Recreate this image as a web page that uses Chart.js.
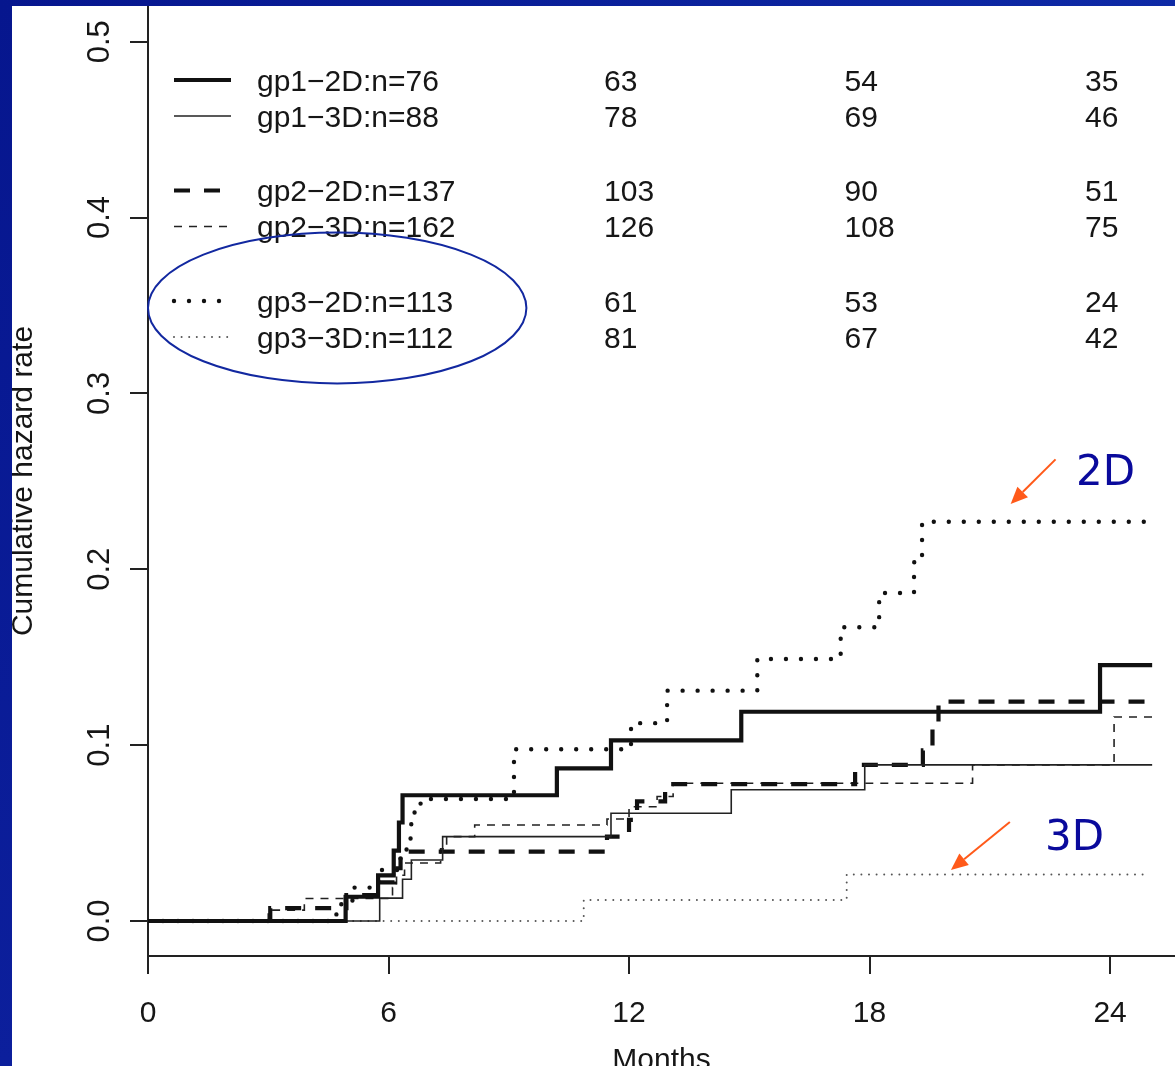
<!DOCTYPE html>
<html>
<head>
<meta charset="utf-8">
<script src="https://cdn.jsdelivr.net/npm/chart.js@4.4.1/dist/chart.umd.min.js"></script>
<style>
  html, body { margin: 0; padding: 0; background: #fff; overflow: hidden; }
  canvas { display: block; }
</style>
</head>
<body>
<canvas id="c" width="1175" height="1066"></canvas>
<script>
// Axis ticks
const monthTicks  = [0, 6, 12, 18, 24];
const hazardTicks = [0, 0.1, 0.2, 0.3, 0.4, 0.5];

// Group names and sizes
const groupNames = ['gp1\u22122D', 'gp1\u22123D', 'gp2\u22122D', 'gp2\u22123D', 'gp3\u22122D', 'gp3\u22123D'];
const groupN     = [76, 88, 137, 162, 113, 112];

// Numbers at risk at 12, 18 and 24 months
const riskMonths = [12, 18, 24];
const atRisk12 = [63, 78, 103, 126, 61, 81];
const atRisk18 = [54, 69, 90, 108, 53, 67];
const atRisk24 = [35, 46, 51, 75, 24, 42];

// Cumulative hazard curves: jump times (months) and level after each jump
const gp1_2D_t = [0, 4.93, 5.74, 6.13, 6.26, 6.35, 10.2, 11.55, 14.8, 23.75, 25.05];
const gp1_2D_h = [0, 0.0138, 0.026, 0.040, 0.056, 0.0715, 0.0868, 0.1027, 0.119, 0.1455, 0.1455];

const gp1_3D_t = [0, 5.78, 6.35, 6.57, 7.35, 11.55, 14.55, 17.88, 25.05];
const gp1_3D_h = [0, 0.013, 0.0237, 0.0347, 0.048, 0.0613, 0.0746, 0.0888, 0.0888];

const gp2_2D_t = [0, 3.05, 4.95, 5.78, 6.15, 6.3, 11.45, 12.0, 12.2, 12.9, 17.64, 19.33, 19.57, 19.72, 25.05];
const gp2_2D_h = [0, 0.0073, 0.0147, 0.022, 0.030, 0.0394, 0.048, 0.0575, 0.068, 0.0778, 0.0888, 0.097, 0.111, 0.1248, 0.1248];

const gp2_3D_t = [0, 3.0, 3.9, 6.1, 6.2, 6.4, 7.3, 7.45, 8.15, 11.45, 12.0, 12.7, 13.1, 20.57, 24.1, 25.05];
const gp2_3D_h = [0, 0.0062, 0.0128, 0.019, 0.026, 0.033, 0.041, 0.048, 0.0546, 0.058, 0.065, 0.0708, 0.0783, 0.0888, 0.116, 0.116];

const gp3_2D_t = [0, 4.7, 5.1, 5.75, 6.3, 6.45, 6.55, 6.65, 6.8, 9.13, 12.05, 12.95, 15.2, 17.28, 18.24, 19.11, 19.31, 24.85];
const gp3_2D_h = [0, 0.0095, 0.019, 0.029, 0.036, 0.046, 0.055, 0.063, 0.0694, 0.0977, 0.1125, 0.131, 0.149, 0.167, 0.1865, 0.204, 0.227, 0.227];

const gp3_3D_t = [0, 10.87, 17.43, 24.85];
const gp3_3D_h = [0, 0.012, 0.0265, 0.0265];

const curveTimes  = [gp1_2D_t, gp1_3D_t, gp2_2D_t, gp2_3D_t, gp3_2D_t, gp3_3D_t];
const curveLevels = [gp1_2D_h, gp1_3D_h, gp2_2D_h, gp2_3D_h, gp3_2D_h, gp3_3D_h];

// Line styles: thick = 2D, thin = 3D; solid / dashed / dotted per group
const lineStyles = [
  { color: '#111', width: 4.2, dash: [],       cap: 'butt' },
  { color: '#222', width: 1.6, dash: [],       cap: 'butt' },
  { color: '#111', width: 4.2, dash: [16, 14], cap: 'butt' },
  { color: '#222', width: 1.6, dash: [8, 7],   cap: 'butt' },
  { color: '#111', width: 4.4, dash: [0, 15],  cap: 'round' },
  { color: '#555', width: 2.0, dash: [0, 7.6], cap: 'round' }
];

const FONT = "'Liberation Sans', Arial, Helvetica, sans-serif";
const TEXT = '#161616';

const datasets = groupNames.map((g, i) => ({
  label: g + ':n=' + groupN[i],
  data: curveTimes[i].map((t, k) => ({ x: t, y: curveLevels[i][k] })),
  stepped: 'before',
  borderColor: lineStyles[i].color,
  borderWidth: lineStyles[i].width,
  borderDash: lineStyles[i].dash,
  borderCapStyle: lineStyles[i].cap,
  borderJoinStyle: 'miter',
  pointRadius: 0,
  fill: false,
  tension: 0
}));

function drawArrow(ctx, x1, y1, x2, y2) {
  const ang = Math.atan2(y2 - y1, x2 - x1);
  const len = 17, half = 7.5;
  const bx = x2 - len * Math.cos(ang), by = y2 - len * Math.sin(ang);
  ctx.beginPath();
  ctx.moveTo(x1, y1);
  ctx.lineTo(bx, by);
  ctx.stroke();
  ctx.beginPath();
  ctx.moveTo(x2, y2);
  ctx.lineTo(bx + half * Math.sin(ang), by - half * Math.cos(ang));
  ctx.lineTo(bx - half * Math.sin(ang), by + half * Math.cos(ang));
  ctx.closePath();
  ctx.fill();
}

const slide = {
  id: 'slide',
  beforeDraw(chart) {
    const ctx = chart.ctx;
    ctx.save();
    ctx.fillStyle = '#ffffff';
    ctx.fillRect(0, 0, chart.width, chart.height);
    ctx.restore();
  },
  afterDraw(chart) {
    const ctx = chart.ctx;
    const xs = chart.scales.x, ys = chart.scales.y;
    ctx.save();

    // rotated y tick labels
    ctx.fillStyle = TEXT;
    ctx.font = '31px ' + FONT;
    ctx.textAlign = 'center';
    ctx.textBaseline = 'alphabetic';
    hazardTicks.forEach(v => {
      ctx.save();
      ctx.translate(108.5, ys.getPixelForValue(v));
      ctx.rotate(-Math.PI / 2);
      ctx.fillText(v.toFixed(1), 0, 0);
      ctx.restore();
    });

    // legend with numbers at risk
    const riskCols = [atRisk12, atRisk18, atRisk24];
    chart.data.datasets.forEach((ds, i) => {
      const rowY = 80 + Math.floor(i / 2) * 110.5 + (i % 2) * 36;
      ctx.save();
      ctx.strokeStyle = ds.borderColor;
      ctx.lineWidth = ds.borderWidth;
      ctx.lineCap = ds.borderCapStyle;
      ctx.setLineDash(ds.borderDash);
      ctx.beginPath();
      ctx.moveTo(174, rowY);
      ctx.lineTo(231, rowY);
      ctx.stroke();
      ctx.restore();

      ctx.fillStyle = TEXT;
      ctx.font = '30px ' + FONT;
      ctx.textAlign = 'left';
      ctx.textBaseline = 'alphabetic';
      ctx.fillText(ds.label, 257, rowY + 10.5);
      riskMonths.forEach((m, c) => {
        ctx.fillText(String(riskCols[c][i]), xs.getPixelForValue(m) - 25, rowY + 10.5);
      });
    });

    // highlight ring around the gp3 rows
    ctx.strokeStyle = '#1228a0';
    ctx.lineWidth = 2;
    ctx.beginPath();
    ctx.ellipse(xs.getPixelForValue(4.72), ys.getPixelForValue(0.3486),
                xs.getPixelForValue(4.72) - xs.getPixelForValue(0),
                ys.getPixelForValue(0) - ys.getPixelForValue(0.0429), 0, 0, Math.PI * 2);
    ctx.stroke();

    // callouts
    ctx.strokeStyle = '#ff5a1a';
    ctx.fillStyle = '#ff5a1a';
    ctx.lineWidth = 2;
    drawArrow(ctx, xs.getPixelForValue(22.64), ys.getPixelForValue(0.2625),
                   xs.getPixelForValue(21.52), ys.getPixelForValue(0.2371));
    drawArrow(ctx, xs.getPixelForValue(21.50), ys.getPixelForValue(0.0563),
                   xs.getPixelForValue(20.03), ys.getPixelForValue(0.0290));

    ctx.fillStyle = '#0a0a9c';
    ctx.font = '42px "DejaVu Sans", Verdana, sans-serif';
    ctx.textAlign = 'left';
    ctx.textBaseline = 'alphabetic';
    ctx.fillText('2D', xs.getPixelForValue(23.15), ys.getPixelForValue(0.2479));
    ctx.fillText('3D', xs.getPixelForValue(22.38), ys.getPixelForValue(0.0404));

    // slide frame
    const gl = ctx.createLinearGradient(0, 0, 0, chart.height);
    gl.addColorStop(0, '#06168e');
    gl.addColorStop(1, '#0c1f9c');
    ctx.fillStyle = gl;
    ctx.fillRect(0, 0, 12, chart.height);
    const gt = ctx.createLinearGradient(0, 0, chart.width, 0);
    gt.addColorStop(0, '#06168e');
    gt.addColorStop(1, '#0e2aa6');
    ctx.fillStyle = gt;
    ctx.fillRect(0, 0, chart.width, 6);
    ctx.restore();
  }
};

new Chart(document.getElementById('c'), {
  type: 'line',
  data: { datasets },
  options: {
    responsive: false,
    animation: false,
    devicePixelRatio: 1,
    layout: { padding: { top: 6, right: 0, bottom: 0, left: 0 } },
    plugins: { legend: { display: false }, tooltip: { enabled: false } },
    scales: {
      x: {
        type: 'linear', min: 0, max: 25.62,
        afterBuildTicks: s => { s.ticks = monthTicks.map(v => ({ value: v })); },
        afterFit: s => { s.height = 110; },
        grid: { drawOnChartArea: false, drawTicks: true, tickLength: 18, color: '#222', lineWidth: 2 },
        border: { display: true, color: '#222', width: 2 },
        ticks: { color: TEXT, font: { family: FONT, size: 30 }, padding: 22, maxRotation: 0, autoSkip: false,
                 callback: v => String(v) },
        title: { display: true, text: 'Months', color: TEXT, font: { family: FONT, size: 30 },
                 padding: { top: 0, bottom: -13 } }
      },
      y: {
        type: 'linear', min: -0.0199, max: 0.5203,
        afterBuildTicks: s => { s.ticks = hazardTicks.map(v => ({ value: v })); },
        afterFit: s => { s.width = 148; },
        grid: { drawOnChartArea: false, drawTicks: true, tickLength: 18, color: '#222', lineWidth: 2 },
        border: { display: true, color: '#222', width: 2 },
        ticks: { display: false },
        title: { display: true, text: 'Cumulative hazard rate', color: TEXT, font: { family: FONT, size: 30 },
                 padding: { top: 6, bottom: 0 } }
      }
    }
  },
  plugins: [slide]
});
</script>
</body>
</html>
